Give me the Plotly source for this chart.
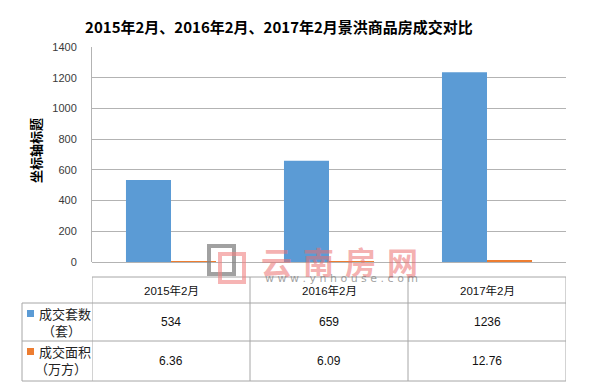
import plotly.graph_objects as go

# ---- data ----
categories = ["2015年2月", "2016年2月", "2017年2月"]
units_sold = [534, 659, 1236]          # 成交套数（套）
area_sold = [6.36, 6.09, 12.76]        # 成交面积（万方）
units_text = ["534", "659", "1236"]
area_text = ["6.36", "6.09", "12.76"]
y_ticks = [0, 200, 400, 600, 800, 1000, 1200, 1400]
title_text = "2015年2月、2016年2月、2017年2月景洪商品房成交对比"
y_title = "坐标轴标题"

BLUE = "#5b9bd5"
ORANGE = "#ed7d31"
GRID = "#b3b3b3"
TBL = "#a6a6a6"
FONT = "Liberation Sans, Noto Sans CJK SC, sans-serif"
CJK = "Noto Sans CJK SC, sans-serif"

# the page body has an 8px margin; compensate
OFF = 8
W, H = 600 - OFF, 391 - OFF
L, R, T, B = 92, 566, 47, 262   # reference pixel coordinates of the plot area


def xp(px):
    return (px - L) / (R - L)


def yp(py):
    return (B - py) / (B - T)


fig = go.Figure()
fig.add_trace(go.Bar(x=list(range(3)), y=units_sold, name="成交套数（套）",
                     marker=dict(color=BLUE, line=dict(width=0))))
fig.add_trace(go.Bar(x=list(range(3)), y=area_sold, name="成交面积（万方）",
                     marker=dict(color=ORANGE, line=dict(width=0))))

shapes = []
annotations = []

# table geometry (reference pixels)
t_top, r1, r2, t_bot = 277, 303, 341, 381
lab_left = 22

shapes.append(dict(type="line", xref="paper", yref="paper", x0=xp(L), x1=xp(R),
                   y0=yp(t_top), y1=yp(t_top), line=dict(color=TBL, width=1)))
for yy in (r1, r2, t_bot):
    shapes.append(dict(type="line", xref="paper", yref="paper", x0=xp(lab_left), x1=xp(R),
                       y0=yp(yy), y1=yp(yy), line=dict(color=TBL, width=1)))
for k in range(len(categories) + 1):
    shapes.append(dict(type="line", xref="x", yref="paper", x0=k - 0.5, x1=k - 0.5,
                       y0=yp(t_top), y1=yp(t_bot), line=dict(color=TBL, width=1)))
shapes.append(dict(type="line", xref="paper", yref="paper", x0=xp(lab_left), x1=xp(lab_left),
                   y0=yp(r1), y1=yp(t_bot), line=dict(color=TBL, width=1)))

for i, c in enumerate(categories):
    annotations.append(dict(x=i, y=yp((t_top + r1) / 2), xref="x", yref="paper", text=c,
                            showarrow=False, font=dict(size=11.5, color="#111", family=FONT),
                            xanchor="center", yanchor="middle"))
    annotations.append(dict(x=i, y=yp((r1 + r2) / 2), xref="x", yref="paper", text=units_text[i],
                            showarrow=False, font=dict(size=12, color="#111", family=FONT),
                            xanchor="center", yanchor="middle"))
    annotations.append(dict(x=i, y=yp((r2 + t_bot) / 2), xref="x", yref="paper", text=area_text[i],
                            showarrow=False, font=dict(size=12, color="#111", family=FONT),
                            xanchor="center", yanchor="middle"))

for (l1, l2, col, ytop) in (("成交套数", "（套）", BLUE, r1), ("成交面积", "（万方）", ORANGE, r2)):
    shapes.append(dict(type="rect", xref="paper", yref="paper", x0=xp(27), x1=xp(34),
                       y0=yp(ytop + 14), y1=yp(ytop + 7), fillcolor=col, line=dict(width=0)))
    annotations.append(dict(x=xp(37), y=yp(ytop + 10.5), xref="paper", yref="paper", text=l1,
                            showarrow=False, font=dict(size=13, color="#222", family=CJK),
                            xanchor="left", yanchor="middle"))
    annotations.append(dict(x=xp(61), y=yp(ytop + 27), xref="paper", yref="paper", text=l2,
                            showarrow=False, font=dict(size=13, color="#222", family=CJK),
                            xanchor="center", yanchor="middle"))

annotations.append(dict(x=xp(35), y=yp(151), xref="paper", yref="paper", text="<b>" + y_title + "</b>",
                        showarrow=False, textangle=-90, font=dict(size=13, color="#000", family=CJK),
                        xanchor="center", yanchor="middle"))

# watermark
shapes.append(dict(type="rect", xref="paper", yref="paper", x0=xp(209), x1=xp(234),
                   y0=yp(274), y1=yp(246), line=dict(color="rgba(130,130,130,0.75)", width=4)))
shapes.append(dict(type="rect", xref="paper", yref="paper", x0=xp(220), x1=xp(244),
                   y0=yp(282), y1=yp(254), line=dict(color="rgba(240,130,130,0.6)", width=4)))
for j, ch in enumerate("云南房网"):
    annotations.append(dict(x=xp(276 + 42 * j), y=yp(260), xref="paper", yref="paper", text="<b>" + ch + "</b>",
                            showarrow=False, font=dict(size=31, color="rgba(235,110,110,0.55)", family=CJK),
                            xanchor="center", yanchor="middle"))
annotations.append(dict(x=xp(341), y=yp(278), xref="paper", yref="paper",
                        text="w w w . y n h o u s e . c o m", showarrow=False,
                        font=dict(size=11, color="rgba(120,120,120,0.7)", family="DejaVu Sans, sans-serif"),
                        xanchor="center", yanchor="middle"))

fig.update_layout(
    width=W, height=H,
    margin=dict(l=L - OFF, r=600 - R, t=T - OFF, b=391 - B, pad=0),
    paper_bgcolor="white", plot_bgcolor="white",
    barmode="group", bargap=0.43, bargroupgap=0,
    showlegend=False,
    title=dict(text="<b>" + title_text + "</b>", x=(279 - OFF) / W, xanchor="center", y=1 - (28 - OFF) / H,
               yanchor="middle", font=dict(size=15, color="#000", family=CJK)),
    shapes=shapes, annotations=annotations,
    xaxis=dict(range=[-0.5, 2.5], showticklabels=False, showgrid=False, zeroline=False,
               showline=False, ticks=""),
    yaxis=dict(range=[0, 1400], tickvals=y_ticks, showgrid=True, gridcolor=GRID, gridwidth=1,
               zeroline=True, zerolinecolor=GRID, zerolinewidth=1,
               showline=True, linecolor=GRID, linewidth=1, ticks="",
               ticklabelstandoff=12,
               tickfont=dict(size=11, color="#3a3a3a", family=FONT)),
)

fig.write_html("out.html")
